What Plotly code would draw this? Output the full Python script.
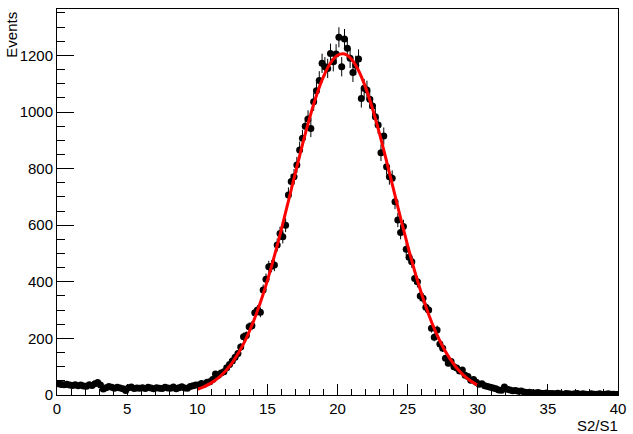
import numpy as np
import plotly.graph_objects as go

# Histogram: 200 bins over 0..40 (S2/S1), counts
n_bins = 200
x_min, x_max = 0.0, 40.0
counts = [
    # 0.1 .. 1.9
    40, 37, 36, 38, 35, 34, 36, 33, 35, 32,
    # 2.1 .. 3.9
    31, 36, 34, 40, 44, 35, 21, 26, 30, 27,
    # 4.1 .. 5.9
    24, 27, 25, 22, 16, 26, 28, 23, 25, 24,
    # 6.1 .. 7.9
    26, 23, 27, 25, 22, 26, 24, 23, 27, 25,
    # 8.1 .. 9.9
    24, 28, 22, 26, 29, 25, 24, 30, 33, 35,
    # 10.1 .. 11.9
    35, 41, 38, 45, 47, 55, 74, 70, 78, 82,
    # 12.1 .. 13.9
    96, 108, 120, 133, 147, 170, 206, 210, 241, 245,
    # 14.1 .. 15.9
    291, 300, 292, 371, 409, 453, 455, 459, 530, 571,
    # 16.1 .. 17.9
    559, 600, 707, 754, 771, 813, 866, 907, 950, 975,
    # 18.1 .. 19.9
    942, 1036, 1075, 1111, 1172, 1160, 1154, 1207, 1178, 1205,
    # 20.1 .. 21.9
    1264, 1160, 1258, 1225, 1190, 1140, 1165, 1187, 1048, 1084,
    # 22.1 .. 23.9
    1078, 1045, 1021, 983, 954, 856, 915, 807, 771, 766,
    # 24.1 .. 25.9
    683, 618, 574, 595, 515, 487, 471, 412, 400, 350,
    # 26.1 .. 27.9
    342, 310, 300, 236, 204, 230, 180, 165, 130, 112,
    # 28.1 .. 29.9
    118, 100, 95, 85, 88, 70, 65, 52, 55, 45,
    # 30.1 .. 31.9
    38, 40, 33, 30, 27, 25, 22, 18, 17, 28,
    # 32.1 .. 33.9
    20, 18, 15, 16, 13, 14, 11, 9, 10, 8,
    # 34.1 .. 35.9
    7, 9, 6, 5, 7, 5, 5, 4, 6, 4,
    # 36.1 .. 37.9
    3, 5, 4, 3, 4, 5, 3, 4, 3, 2,
    # 38.1 .. 39.9
    4, 3, 3, 4, 2, 3, 4, 3, 3, 2,
]

# Fit curve (Gaussian fit over 10..30)
fit_x = [10.0, 10.5, 11.0, 11.5, 12.0, 12.5, 13.0, 13.5, 14.0, 14.5,
         15.0, 15.5, 16.0, 16.5, 17.0, 17.5, 18.0, 18.5, 19.0, 19.5,
         20.0, 20.5, 21.0, 21.5, 22.0, 22.5, 23.0, 23.5, 24.0, 24.5,
         25.0, 25.5, 26.0, 26.5, 27.0, 27.5, 28.0, 28.5, 29.0, 29.5, 30.0]
fit_y = [20.2, 29.7, 42.8, 60.7, 84.2, 114.8, 153.3, 201.2, 258.8, 326.7,
         404.4, 491.4, 585.6, 685.0, 785.8, 884.5, 976.8, 1058.4, 1124.9, 1173.2,
         1200.4, 1205.0, 1186.7, 1146.6, 1087.0, 1010.9, 922.6, 825.9, 725.4, 624.9,
         528.5, 438.2, 356.7, 284.7, 223.0, 171.4, 129.2, 95.5, 69.3, 49.3, 34.5]

x_title = "S2/S1"
y_title = "Events"

edges = np.linspace(x_min, x_max, n_bins + 1)
centers = 0.5 * (edges[:-1] + edges[1:])
vals = np.array(counts, dtype=float)
errs = np.sqrt(vals)

fig = go.Figure()
fig.add_trace(go.Scatter(
    x=centers, y=vals, mode="markers",
    marker=dict(color="black", size=7, symbol="circle"),
    error_y=dict(type="data", array=errs, visible=True, color="black",
                 thickness=1, width=0),
    showlegend=False, hoverinfo="skip",
))
fig.add_trace(go.Scatter(
    x=fit_x, y=fit_y, mode="lines",
    line=dict(color="#ff0000", width=3, shape="spline"),
    showlegend=False, hoverinfo="skip",
))

font = dict(family="Liberation Sans, Arial, Helvetica, sans-serif", size=15, color="black")

fig.update_layout(
    width=633, height=434,
    margin=dict(l=57, r=7, t=9, b=39),
    paper_bgcolor="white", plot_bgcolor="white",
    font=font,
    xaxis=dict(
        range=[x_min, x_max], showgrid=False, zeroline=False,
        showline=True, linecolor="black", linewidth=1, mirror=True,
        ticks="inside", ticklen=11, tickwidth=1, tickcolor="black",
        tick0=0, dtick=5, ticklabeloverflow="allow",
        minor=dict(ticks="inside", ticklen=6, tickwidth=1, tickcolor="black", dtick=1, showgrid=False),
        tickfont=font,
    ),
    yaxis=dict(
        range=[0, 1364], showgrid=False, zeroline=False,
        showline=True, linecolor="black", linewidth=1, mirror=True,
        ticks="inside", ticklen=17, tickwidth=1, tickcolor="black",
        tick0=0, dtick=200, ticklabeloverflow="allow",
        minor=dict(ticks="inside", ticklen=8, tickwidth=1, tickcolor="black", dtick=50, showgrid=False),
        tickfont=font,
    ),
    annotations=[
        dict(text=y_title, xref="paper", yref="paper",
             x=-47 / 569, y=1 - 1 / 386, xanchor="center", yanchor="top",
             textangle=-90, showarrow=False, font=font),
        dict(text=x_title, xref="paper", yref="paper",
             x=1 + 2 / 569, y=-20 / 386, xanchor="right", yanchor="top",
             showarrow=False, font=font),
    ],
)

fig.write_html("out.html", config={"displayModeBar": False},
               post_script="document.body.style.margin='0';")
